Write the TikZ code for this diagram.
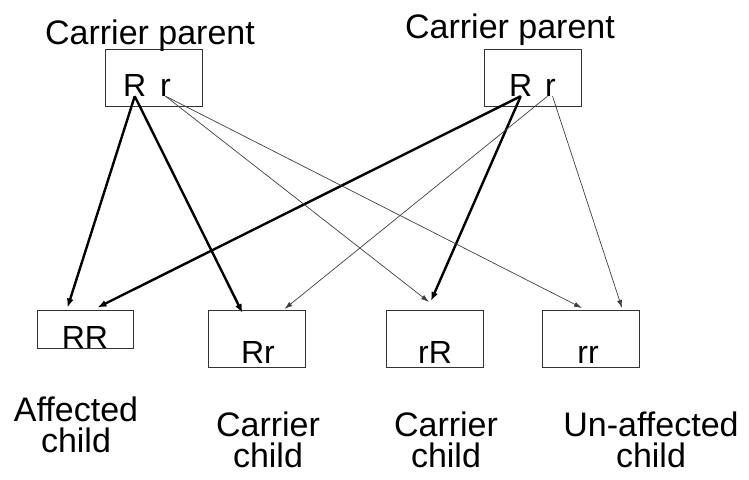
\documentclass[tikz,border=0pt]{standalone}
\usepackage{fontspec}
\setmainfont{Liberation Sans}
\usetikzlibrary{arrows.meta}

\begin{document}
\begin{tikzpicture}[x=1pt,y=-1pt,
    box/.style={draw=black!80,line width=1pt,inner sep=0pt,minimum width=97pt,minimum height=57pt},
    lbl/.style={inner sep=0pt,anchor=base,font=\fontsize{32}{30}\selectfont,align=center},
    big/.style={lbl,font=\fontsize{34}{31}\selectfont},
    heavy/.style={-{Latex[length=9pt,width=7pt]},line width=2.4pt},
    light/.style={-{Latex[length=8pt,width=5pt]},line width=0.7pt,black!75}]

    % keep the margins of the page
    \useasboundingbox (0,0) rectangle (749,479);

    % parents
    \node[box] (par1) at (153.5,78) {};
    \node[box] (par2) at (532.5,78) {};
    \node[big] (cap1) at (150,44) {Carrier parent};
    \node[big] (cap2) at (510,38) {Carrier parent};
    \node[lbl,anchor=base west] (p1R) at (123,96) {R};
    \node[lbl,anchor=base west] (p1r) at (160,96) {r};
    \node[lbl,anchor=base west] (p2R) at (509,96) {R};
    \node[lbl,anchor=base west] (p2r) at (545,96) {r};

    % children
    \node[box,minimum width=96pt,minimum height=38pt] (RR) at (85,329) {};
    \node[box] (Rr) at (256.5,339) {};
    \node[box] (rR) at (435,339) {};
    \node[box] (rr) at (591,339) {};
    \node[lbl] (tRR) at (85,348) {RR};
    \node[lbl] (tRr) at (258,363) {Rr};
    \node[lbl] (trR) at (435,363) {rR};
    \node[lbl] (trr) at (588,363) {rr};

    % captions under the children (base = last line)
    \node[big] (kid1) at (76,452) {Affected\\child};
    \node[big] (kid2) at (268,467) {Carrier\\child};
    \node[big] (kid3) at (446,467) {Carrier\\child};
    \node[big] (kid4) at (651,467) {Un-affected\\child};

    % arrows from the dominant R
    \draw[heavy] (p1R.south) -- ([xshift=31pt,yshift=2pt]RR.north west);
    \draw[heavy] (p1R.south) -- ([xshift=35pt,yshift=-3pt]Rr.north west);
    \draw[heavy] (p2R.south) -- ([xshift=61pt,yshift=2pt]RR.north west);
    \draw[heavy] (p2R.south) -- ([xshift=45pt,yshift=9pt]rR.north west);

    % arrows from the recessive r
    \draw[light] (p1r.south) -- ([xshift=43pt,yshift=8pt]rR.north west);
    \draw[light] (p1r.south) -- ([xshift=40pt,yshift=2pt]rr.north west);
    \draw[light] ([xshift=-3pt]p2r.south) -- ([xshift=77pt,yshift=1pt]Rr.north west);
    \draw[light] ([xshift=2pt]p2r.south) -- ([xshift=80pt,yshift=2pt]rr.north west);

\end{tikzpicture}
\end{document}
